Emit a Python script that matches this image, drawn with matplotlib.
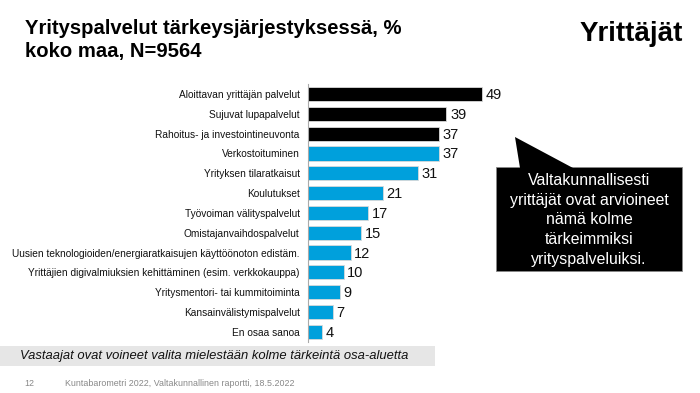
import matplotlib
matplotlib.use("Agg")
import matplotlib.pyplot as plt
from matplotlib.patches import Polygon, Rectangle

plt.rcParams['font.family'] = ['Liberation Sans', 'DejaVu Sans']

categories = [
    "Aloittavan yrittäjän palvelut",
    "Sujuvat lupapalvelut",
    "Rahoitus- ja investointineuvonta",
    "Verkostoituminen",
    "Yrityksen tilaratkaisut",
    "Koulutukset",
    "Työvoiman välityspalvelut",
    "Omistajanvaihdospalvelut",
    "Uusien teknologioiden/energiaratkaisujen käyttöönoton edistäm.",
    "Yrittäjien digivalmiuksien kehittäminen (esim. verkkokauppa)",
    "Yritysmentori- tai kummitoiminta",
    "Kansainvälistymispalvelut",
    "En osaa sanoa",
]
values = [49, 39, 37, 37, 31, 21, 17, 15, 12, 10, 9, 7, 4]
highlight = [True, True, True] + [False] * 10

W, H = 700, 393
fig = plt.figure(figsize=(W / 100, H / 100), dpi=100)

def fx(px):
    return px / W

def fy(py):
    return 1 - py / H

# axes
px_per_unit = (482 - 308) / 49
xmax = 60
top_px, bot_px = 84.1, 341.7
ax = fig.add_axes([fx(308), fy(bot_px), xmax * px_per_unit / W, (bot_px - top_px) / H])
ypos = list(range(len(values)))
colors = ['#000000' if h else '#00a0dc' for h in highlight]
ax.barh(ypos, values, height=0.72, color=colors, edgecolor='#d9d9d9', linewidth=0.6)
ax.set_ylim(len(values) - 0.5, -0.5)
ax.set_xlim(0, xmax)
ax.set_yticks(ypos)
ax.set_yticklabels(categories, fontsize=7.3, color='#111111')
ax.tick_params(axis='y', length=0, pad=6)
ax.set_xticks([])
for s in ['top', 'right', 'bottom']:
    ax.spines[s].set_visible(False)
ax.spines['left'].set_color('#aaaaaa')
ax.spines['left'].set_linewidth(0.8)
for y, v in zip(ypos, values):
    ax.text(v + 1.0, y + 0.05, str(v), va='center', ha='left', fontsize=10.5, color='#111111')

# title
fig.text(fx(25), fy(28), "Yrityspalvelut tärkeysjärjestyksessä, %", fontsize=14.6,
         fontweight='bold', va='center', ha='left')
fig.text(fx(25), fy(52), "koko maa, N=9564", fontsize=14.6,
         fontweight='bold', va='center', ha='left')
fig.text(fx(683), fy(34), "Yrittäjät", fontsize=20, fontweight='bold',
         va='center', ha='right')

# callout
box = Rectangle((fx(496), fy(271)), fx(682) - fx(496), fy(167) - fy(271),
                transform=fig.transFigure, facecolor='black', edgecolor='#888888',
                linewidth=0.6)
fig.patches.append(box)
tri = Polygon([(fx(515), fy(137)), (fx(520), fy(168)), (fx(573), fy(168))],
              closed=True, transform=fig.transFigure, facecolor='black', edgecolor='none')
fig.patches.append(tri)
fig.text(fx(589), fy(220),
         "Valtakunnallisesti\nyrittäjät ovat arvioineet\nnämä kolme\ntärkeimmiksi\nyrityspalveluiksi.",
         ha='center', va='center', color='white', fontsize=11.4, linespacing=1.38)

# grey band
band = Rectangle((0, fy(366)), fx(435), fy(346) - fy(366), transform=fig.transFigure,
                 facecolor='#e6e6e6', edgecolor='none')
fig.patches.append(band)
fig.text(fx(20), fy(356), "Vastaajat ovat voineet valita mielestään kolme tärkeintä osa-aluetta",
         fontsize=9.4, style='italic', va='center', ha='left', color='#111111')

# footer
fig.text(fx(24), fy(383), "12", fontsize=6.4, color='#888888', va='center', ha='left')
fig.text(fx(65), fy(383), "Kuntabarometri 2022, Valtakunnallinen raportti, 18.5.2022",
         fontsize=6.4, color='#888888', va='center', ha='left')

fig.savefig("out.png", dpi=100)
